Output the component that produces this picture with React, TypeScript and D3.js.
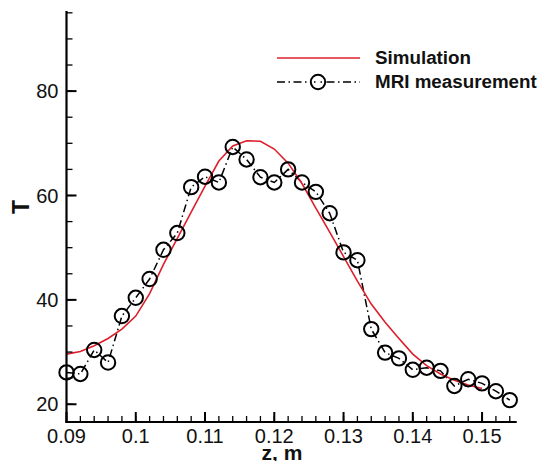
import React from "react";
import * as d3 from "d3";

const mriZ = [0.09, 0.092, 0.094, 0.096, 0.098, 0.1, 0.102, 0.104, 0.106, 0.108, 0.11, 0.112, 0.114, 0.116, 0.118, 0.12, 0.122, 0.124, 0.126, 0.128, 0.13, 0.132, 0.134, 0.136, 0.138, 0.14, 0.142, 0.144, 0.146, 0.148, 0.15, 0.152, 0.154];
const mriT = [26.1, 25.8, 30.4, 28.0, 36.9, 40.4, 44.0, 49.6, 52.8, 61.6, 63.6, 62.5, 69.3, 66.9, 63.5, 62.5, 65.0, 62.5, 60.7, 56.6, 49.1, 47.6, 34.4, 29.9, 28.8, 26.6, 27.0, 26.4, 23.5, 24.8, 24.0, 22.5, 20.8];

const simZ = [0.09, 0.092, 0.094, 0.096, 0.098, 0.1, 0.102, 0.104, 0.106, 0.108, 0.11, 0.112, 0.114, 0.116, 0.118, 0.12, 0.122, 0.124, 0.126, 0.128, 0.13, 0.132, 0.134, 0.136, 0.138, 0.14, 0.142, 0.144, 0.146, 0.148, 0.15];
const simT = [29.6, 30.1, 31.2, 32.6, 34.4, 36.9, 41.2, 46.8, 51.8, 56.8, 61.8, 66.6, 69.5, 70.5, 70.4, 68.9, 66.2, 62.3, 57.6, 53.0, 48.3, 43.6, 39.2, 35.7, 32.6, 29.6, 27.4, 25.8, 24.6, 23.7, 23.0];

const xMajorTicks = [0.09, 0.1, 0.11, 0.12, 0.13, 0.14, 0.15];
const xTickLabels = ["0.09", "0.1", "0.11", "0.12", "0.13", "0.14", "0.15"];
const yMajorTicks = [20, 40, 60, 80];
const yTickLabels = ["20", "40", "60", "80"];

const legendLabels = ["Simulation", "MRI measurement"];
const xTitle = "z, m";
const yTitle = "T";

const FONT = "'Liberation Sans', Arial, Helvetica, sans-serif";
const RED = "#dd1f2c";

export default function App() {
  const x = d3.scaleLinear().domain([0.09, 0.155]).range([66.5, 516.7]);
  const y = d3.scaleLinear().domain([16.6, 95.35]).range([422, 11]);

  const xMinor = d3.range(0, 33).map((i) => 0.09 + i * 0.002);
  const yMinor = d3.range(0, 16).map((i) => 20 + i * 5);

  const simData = simZ.map((z, i) => [z, simT[i]] as [number, number]);
  const mriData = mriZ.map((z, i) => [z, mriT[i]] as [number, number]);
  const line = d3
    .line<[number, number]>()
    .x((d) => x(d[0]))
    .y((d) => y(d[1]));

  const x0 = x(0.09);
  const yBase = y(16.6);
  const dashDot = "8,3.5,1.5,3.5";

  return (
    <svg
      width={539}
      height={461}
      style={{ position: "absolute", left: 0, top: 0, background: "#fff" }}
      fontFamily={FONT}
    >
      <rect x={0} y={0} width={539} height={461} fill="#fff" />
      {/* series */}
      <path d={line(mriData) || ""} fill="none" stroke="#000" strokeWidth={1.5} strokeDasharray={dashDot} />
      <path d={line(simData) || ""} fill="none" stroke={RED} strokeWidth={1.6} />
      {mriData.map((d, i) => (
        <circle key={i} cx={x(d[0])} cy={y(d[1])} r={7.2} fill="none" stroke="#000" strokeWidth={2} />
      ))}

      {/* axes */}
      <line x1={x0} x2={x0} y1={y(95.35)} y2={yBase + 1} stroke="#000" strokeWidth={2.2} />
      <line x1={x0 - 1} x2={x(0.155)} y1={yBase} y2={yBase} stroke="#000" strokeWidth={2.2} />
      {yMinor.map((v) => (
        <line key={"ym" + v} x1={x0} x2={x0 + 6} y1={y(v)} y2={y(v)} stroke="#000" strokeWidth={1.3} />
      ))}
      {yMajorTicks.map((v, i) => (
        <g key={"yM" + v}>
          <line x1={x0} x2={x0 + 10} y1={y(v)} y2={y(v)} stroke="#000" strokeWidth={2} />
          <text x={58.5} y={y(v)} dy="0.36em" textAnchor="end" fontSize={20} fill="#111">
            {yTickLabels[i]}
          </text>
        </g>
      ))}
      {xMinor.map((v, i) => (
        <line key={"xm" + i} x1={x(v)} x2={x(v)} y1={yBase} y2={yBase - 6} stroke="#000" strokeWidth={1.3} />
      ))}
      {xMajorTicks.map((v, i) => (
        <g key={"xM" + i}>
          <line x1={x(v)} x2={x(v)} y1={yBase} y2={yBase - 10} stroke="#000" strokeWidth={2} />
          <text x={x(v)} y={443} textAnchor="middle" fontSize={20} fill="#111">
            {xTickLabels[i]}
          </text>
        </g>
      ))}

      {/* titles */}
      <text x={282} y={459.5} textAnchor="middle" fontSize={21} fontWeight="bold" fill="#111">
        {xTitle}
      </text>
      <text
        transform="translate(29,207) rotate(-90)"
        textAnchor="middle"
        fontSize={23}
        fontWeight="bold"
        fill="#111"
      >
        {yTitle}
      </text>

      {/* legend */}
      <line x1={277} x2={360} y1={58} y2={58} stroke={RED} strokeWidth={1.6} />
      <text x={375} y={64} fontSize={18.8} fontWeight="bold" fill="#111">
        {legendLabels[0]}
      </text>
      <line x1={277} x2={360} y1={82} y2={82} stroke="#000" strokeWidth={1.5} strokeDasharray={dashDot} />
      <circle cx={318} cy={82} r={7.2} fill="#fff" stroke="#000" strokeWidth={2} />
      <line x1={311} x2={325} y1={82} y2={82} stroke="#000" strokeWidth={1.5} strokeDasharray="1.5,5" strokeDashoffset={-3} />
      <text x={375} y={87.5} fontSize={18.8} fontWeight="bold" fill="#111">
        {legendLabels[1]}
      </text>
    </svg>
  );
}
